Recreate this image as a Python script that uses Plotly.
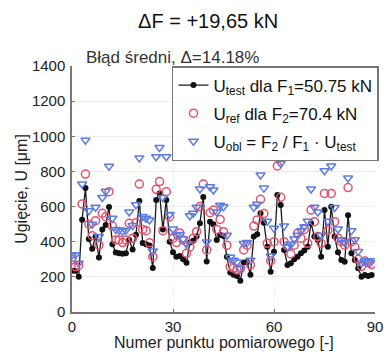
import plotly.graph_objects as go

x_idx = list(range(90))

u_test = [235, 235, 200, 525, 705, 415, 360, 430, 310, 470,
          495, 598, 385, 338, 335, 332, 335, 410, 355, 440,
          632, 392, 385, 378, 250, 637, 675, 470, 637, 400,
          340, 315, 318, 300, 280, 395, 405, 430, 505, 655,
          288, 514, 500, 410, 438, 432, 315, 225, 212, 205,
          178, 281, 285, 212, 430, 442, 562, 508, 372, 229,
          343, 666, 609, 353, 268, 277, 300, 315, 334, 350,
          372, 505, 430, 410, 315, 580, 372, 599, 429, 340,
          296, 286, 550, 334, 296, 249, 201, 210, 205, 210]

u_ref = [311, 258, 265, 615, 785, 500, 434, 520, 380, 562,
         542, 685, 489, 410, 410, 395, 410, 505, 420, 508,
         728, 470, 463, 394, 315, 698, 742, 463, 685, 542,
         420, 395, 450, 410, 334, 370, 420, 457, 600, 728,
         353, 565, 580, 470, 527, 457, 380, 258, 250, 240,
         245, 353, 380, 268, 489, 524, 641, 560, 391, 292,
         400, 831, 653, 400, 375, 330, 380, 448, 420, 470,
         391, 580, 514, 429, 391, 675, 465, 675, 514, 420,
         400, 380, 708, 400, 370, 300, 260, 290, 280, 270]

u_obl = [326, 326, 277, 728, 978, 576, 499, 596, 430, 652,
         687, 829, 534, 469, 465, 460, 465, 569, 492, 610,
         877, 544, 534, 524, 347, 884, 936, 652, 884, 555,
         472, 437, 441, 416, 388, 548, 562, 596, 700, 908,
         399, 713, 694, 569, 608, 599, 437, 312, 294, 284,
         247, 390, 395, 294, 596, 613, 780, 705, 516, 318,
         476, 924, 845, 490, 372, 384, 416, 437, 463, 485,
         516, 700, 596, 569, 437, 804, 516, 831, 595, 472,
         411, 397, 763, 463, 411, 345, 279, 291, 284, 291]

x_ticks = [0, 30, 60, 90]
y_ticks = [0, 200, 400, 600, 800, 1000, 1200, 1400]

FONT = "Liberation Sans, Arial, sans-serif"

fig = go.Figure()
fig.add_trace(go.Scatter(
    x=x_idx, y=u_test, mode="lines+markers", legendgroup="a",
    name="U<sub>test</sub> dla F<sub>1</sub>=50.75 kN",
    line=dict(color="#1a1a1a", width=1.3),
    marker=dict(symbol="circle", size=6, color="#111111"),
))
fig.add_trace(go.Scatter(
    x=x_idx, y=u_ref, mode="markers", legendgroup="b",
    name="U<sub>ref</sub> dla F<sub>2</sub>=70.4 kN",
    marker=dict(symbol="circle-open", size=8, color="#e8506a", line=dict(width=1.5)),
))
fig.add_trace(go.Scatter(
    x=x_idx, y=u_obl, mode="markers", legendgroup="c",
    name="U<sub>obl</sub> = F<sub>2</sub> / F<sub>1</sub> · U<sub>test</sub>",
    marker=dict(symbol="triangle-down-open", size=8, color="#5b7be6", line=dict(width=1.5)),
))

fig.update_layout(
    width=389, height=354,
    paper_bgcolor="white", plot_bgcolor="white",
    margin=dict(l=72, r=10, t=66, b=42),
    font=dict(family=FONT, size=15, color="#222222"),
    showlegend=True,
    legend=dict(
        x=0.33, y=1.0, xanchor="left", yanchor="top",
        bgcolor="white", bordercolor="#777777", borderwidth=1.5,
        font=dict(family=FONT, size=17, color="#111111"),
        tracegroupgap=3, itemsizing="trace", itemwidth=30,
    ),
    title=dict(text="ΔF = +19,65 kN", x=0.535, xanchor="center", y=0.94, yanchor="middle",
               font=dict(family=FONT, size=20, color="#111111")),
    annotations=[
        dict(text="Błąd średni, Δ=14.18%", xref="paper", yref="paper",
             x=0.04, y=1.035, xanchor="left", yanchor="middle", showarrow=False,
             font=dict(family=FONT, size=17, color="#333333")),
        dict(text="Numer punktu pomiarowego [-]", xref="paper", yref="paper",
             x=0.5, y=-0.125, xanchor="center", yanchor="middle", showarrow=False,
             font=dict(family=FONT, size=16, color="#222222")),
    ],
)
fig.update_xaxes(
    range=[0, 90], tickvals=x_ticks, ticks="inside", ticklen=3, tickcolor="#777777",
    showline=True, linecolor="#777777", linewidth=1.5, mirror=False,
    showgrid=True, gridcolor="#ececec", griddash="dot", zeroline=False,
    automargin=False,
    tickfont=dict(size=15),
)
fig.update_yaxes(
    range=[0, 1400], tickvals=y_ticks, ticks="inside", ticklen=3, tickcolor="#777777",
    showline=True, linecolor="#777777", linewidth=1.5, mirror=False,
    showgrid=True, gridcolor="#ececec", zeroline=False,
    automargin=False, ticklabelstandoff=2,
    title=dict(text="Ugięcie, U [μm]", standoff=0, font=dict(size=16)),
    tickfont=dict(size=15),
)

fig.write_html("out.html", config={"displayModeBar": False},
               post_script="document.body.style.margin='0';")
